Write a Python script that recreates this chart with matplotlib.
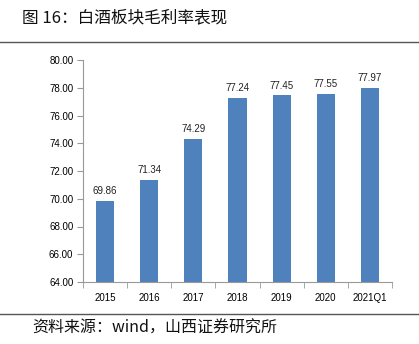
import numpy as np
import matplotlib
matplotlib.use("Agg")
import matplotlib.pyplot as plt
from matplotlib.lines import Line2D

plt.rcParams['font.family'] = ['Noto Sans CJK SC', 'DejaVu Sans']

categories = ['2015', '2016', '2017', '2018', '2019', '2020', '2021Q1']
margins = [69.86, 71.34, 74.29, 77.24, 77.45, 77.55, 77.97]
yticks = [64, 66, 68, 70, 72, 74, 76, 78, 80]

W, H = 419, 344
fig = plt.figure(figsize=(W / 100, H / 100), dpi=100)
ax = fig.add_axes([83 / W, (H - 282) / H, (392 - 83) / W, (282 - 60) / H])

x = np.arange(len(categories))
ax.bar(x, margins, width=0.41, color='#4F81BD', zorder=2)
for xi, v in zip(x, margins):
    ax.text(xi, v + 0.35, f'{v:.2f}', ha='center', va='bottom',
            fontsize=7, family='Liberation Sans', color='#222222')

ax.set_xlim(-0.5, len(categories) - 0.5)
ax.set_ylim(64, 80)
ax.set_yticks(yticks)
ax.set_yticklabels([f'{t:.2f}' for t in yticks], family='Liberation Sans', fontsize=7)
ax.set_xticks(x)
ax.set_xticklabels(categories, family='Liberation Sans', fontsize=7)
ax.set_xticks(np.arange(-0.5, len(categories)), minor=True)
ax.tick_params(axis='x', which='major', length=0, pad=8)
ax.tick_params(axis='x', which='minor', length=4, color='#999999')
ax.tick_params(axis='y', length=4, color='#999999', pad=3)

for s in ['top', 'right']:
    ax.spines[s].set_visible(False)
for s in ['left', 'bottom']:
    ax.spines[s].set_color('#999999')
    ax.spines[s].set_linewidth(0.8)

fig.text(22 / W, 1 - 18 / H, '图 16：白酒板块毛利率表现', fontsize=12,
         ha='left', va='center', color='#111111')
fig.text(32 / W, 1 - 328 / H, '资料来源：wind，山西证券研究所', fontsize=11.5,
         ha='left', va='center', color='#111111')

fig.add_artist(Line2D([0, 1], [1 - 42 / H, 1 - 42 / H], color='#555555', lw=1.0))
fig.add_artist(Line2D([0, 1], [1 - 314 / H, 1 - 314 / H], color='#555555', lw=1.0))

fig.savefig('out.png', dpi=100)
